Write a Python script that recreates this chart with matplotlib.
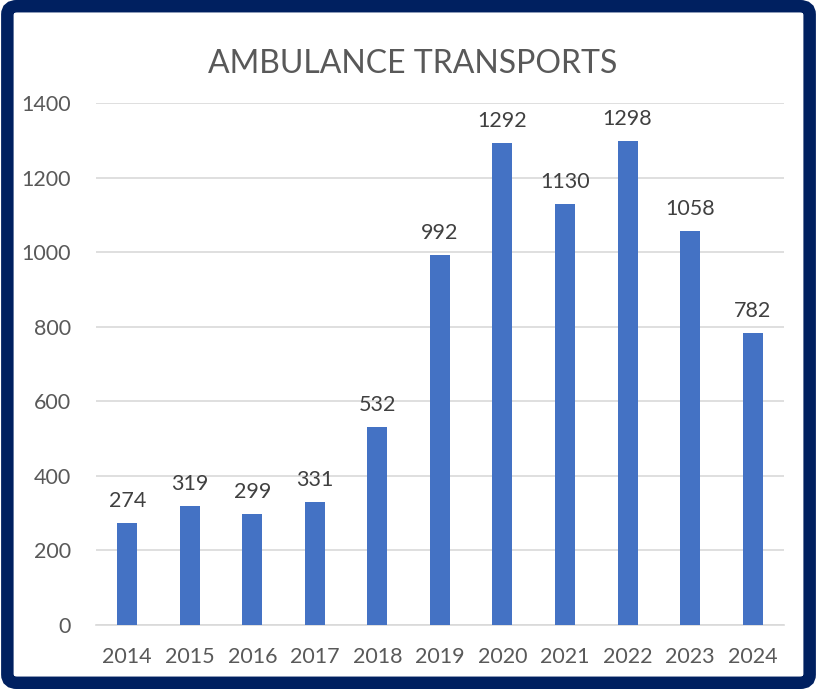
import numpy as np
import matplotlib.pyplot as plt
from matplotlib.patches import FancyBboxPatch

years = ["2014", "2015", "2016", "2017", "2018", "2019", "2020", "2021", "2022", "2023", "2024"]
transports = [274, 319, 299, 331, 532, 992, 1292, 1130, 1298, 1058, 782]

plt.rcParams["font.family"] = ["Lato", "DejaVu Sans"]
txt = "#595959"

fig = plt.figure(figsize=(8.17, 6.89), dpi=100)
ax = fig.add_axes([0.1175, 0.0929, 0.842, 0.7576])

x = np.arange(len(years))
ax.bar(x, transports, width=0.32, color="#4472C4", zorder=3)
for xi, v in zip(x, transports):
    ax.text(xi, v + 32, str(v), ha="center", va="bottom", fontsize=15.5, color="#404040")

ax.set_xlim(-0.5, len(years) - 0.5)
ax.set_ylim(0, 1400)
ax.set_yticks(range(0, 1401, 200))
ax.set_xticks(x)
ax.set_xticklabels(years)
ax.tick_params(axis="both", length=0, labelsize=15.5, labelcolor=txt)
ax.tick_params(axis="y", pad=18)
ax.tick_params(axis="x", pad=16)
ax.grid(axis="y", color="#d9d9d9", linewidth=1.2, zorder=0)
for s in ["top", "right", "left"]:
    ax.spines[s].set_visible(False)
ax.spines["bottom"].set_color("#d9d9d9")
ax.spines["bottom"].set_linewidth(1.2)

fig.text(0.505, 0.907, "AMBULANCE TRANSPORTS", ha="center", va="center", fontsize=23, color=txt)

border = FancyBboxPatch((0.009, 0.009), 0.982, 0.982, boxstyle="round,pad=0,rounding_size=0.012",
                        transform=fig.transFigure, fill=False, edgecolor="#002060", linewidth=9)
fig.patches.append(border)

fig.savefig("out.png", dpi=100)
